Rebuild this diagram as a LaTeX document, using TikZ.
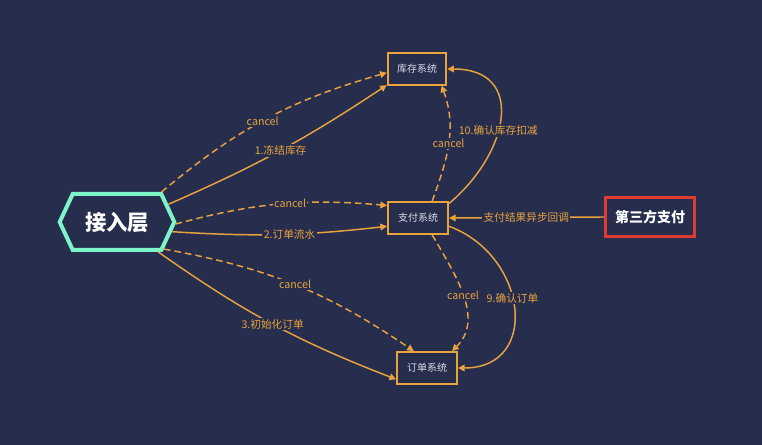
\documentclass[tikz,border=0pt]{standalone}
\usepackage{fontspec}
\setmainfont{Noto Sans CJK SC}
\usetikzlibrary{arrows.meta,shapes.symbols}

\definecolor{bgnavy}{HTML}{272D4D}
\definecolor{flowc}{HTML}{E9A33E}
\definecolor{hubgreen}{HTML}{7DF5C9}
\definecolor{thirdred}{HTML}{DC3C32}
\definecolor{boxtext}{HTML}{DCDCE6}

\begin{document}
\begin{tikzpicture}[x=0.75pt, y=0.75pt,
    sysbox/.style={rectangle, draw=flowc, line width=1.4pt, fill=bgnavy, text=boxtext, minimum width=44pt, minimum height=23.5pt, inner sep=0pt, font=\fontsize{7.5}{9}\selectfont},
    flow/.style={draw=flowc, line width=1.1pt, -{Triangle[length=5pt,width=5pt]}},
    cancelflow/.style={flow, dash pattern=on 5pt off 3pt},
    lbl/.style={fill=bgnavy, text=flowc, inner sep=1pt, font=\fontsize{8}{9}\selectfont}]

    % Background
    \fill[bgnavy] (0,0) rectangle (762,445);

    % Access layer
    \node (hub) [signal, signal to=west and east, signal pointer angle=130, draw=hubgreen, line width=3pt, fill=bgnavy, text=white, minimum width=86pt, minimum height=42pt, font=\fontsize{16}{18}\selectfont\bfseries] at (117,223) {接入层};

    % Systems
    \node (stock) [sysbox] at (417,376) {库存系统};
    \node (pay) [sysbox, minimum width=45pt, minimum height=24pt] at (418,227) {支付系统};
    \node (order) [sysbox, minimum width=45pt, minimum height=24pt] at (427,77) {订单系统};

    % Third party
    \node (third) [rectangle, draw=thirdred, line width=2.3pt, fill=bgnavy, text=white, minimum width=67pt, minimum height=29pt, font=\fontsize{10.5}{12}\selectfont\bfseries] at (650,228) {第三方支付};

    % Access layer to systems
    \draw[cancelflow] (hub.34) to[bend left=12] node[lbl, pos=0.48] {cancel} (stock.187);
    \draw[flow] (hub.19) to[bend right=5] node[lbl] {1.冻结库存} (stock.208);
    \draw[cancelflow] (hub.-2) to[bend left=10] node[lbl, pos=0.55] {cancel} (pay.158);
    \draw[flow] (hub.-10) to[bend right=5] node[lbl, pos=0.55] {2.订单流水} (pay.195);
    \draw[cancelflow] (hub.-30) to[bend left=12] node[lbl] {cancel} (order.128);
    \draw[flow] (hub.-36) to[bend right=7] node[lbl, pos=0.5] {3.初始化订单} (order.200);

    % Payment to stock and order
    \draw[cancelflow] (pay.50) to[out=70, in=-70] node[lbl] {cancel} (stock.-34);
    \draw[flow] (pay.25) to[out=40, in=0, looseness=1.5] node[lbl, pos=0.42] {10.确认库存扣减} (stock.east);
    \draw[cancelflow] (pay.-50) to[out=-60, in=45] node[lbl] {cancel} (order.34);
    \draw[flow] (pay.-15) to[out=-20, in=0, looseness=1.5] node[lbl, pos=0.45] {9.确认订单} (order.east);

    % Callback
    \draw[flow] (third.west) -- node[lbl] {支付结果异步回调} (pay.east);

\end{tikzpicture}
\end{document}
